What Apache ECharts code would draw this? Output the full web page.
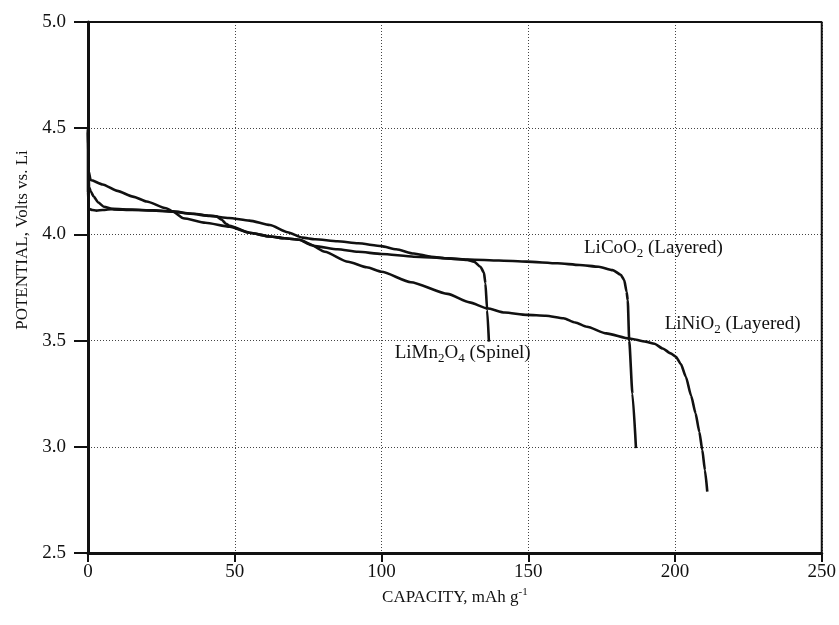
<!DOCTYPE html>
<html>
<head>
<meta charset="utf-8">
<script src="https://cdn.jsdelivr.net/npm/echarts@6/dist/echarts.min.js"></script>
<style>
  html, body { margin: 0; padding: 0; background: #fff; }
  #chart { width: 839px; height: 625px; }
</style>
</head>
<body>
<div id="chart"></div>
<script>
// Discharge curves: [capacity (mAh/g), potential (V vs. Li)]
const licoo2 = [
  [0, 4.49], [0.1, 4.38], [0.34, 4.225], [1, 4.2], [2, 4.177], [3.5, 4.15],
  [5.4, 4.13], [8.8, 4.118], [15, 4.115], [22, 4.113], [29, 4.107], [35, 4.097],
  [41.5, 4.087], [48, 4.077], [55, 4.065], [62, 4.044], [68, 4.01], [73, 3.985],
  [77.4, 3.977], [85, 3.968], [92, 3.958], [100, 3.945], [105, 3.93], [111, 3.91],
  [117, 3.895], [122.5, 3.887], [130, 3.882], [140, 3.877], [149.5, 3.872],
  [160, 3.864], [167.5, 3.856], [174, 3.848], [178.8, 3.832], [181.5, 3.81],
  [182.7, 3.785], [183.5, 3.73], [183.9, 3.69], [184.4, 3.5], [185.5, 3.25],
  [186.7, 2.994]
];
const limn2o4 = [
  [0, 4.5], [0, 4.2], [0.3, 4.12], [1.5, 4.115], [2.9, 4.112], [5, 4.115],
  [8.5, 4.12], [15, 4.117], [22, 4.113], [29, 4.107], [36, 4.097], [41.5, 4.088],
  [43.7, 4.085], [45.5, 4.07], [47, 4.05], [48.3, 4.04], [55, 4.008], [62, 3.99],
  [67, 3.982], [72, 3.975], [77.4, 3.945], [85, 3.93], [92, 3.918], [100, 3.908],
  [111, 3.895], [122.5, 3.887], [129.2, 3.88], [131.5, 3.872], [133.7, 3.848],
  [134.9, 3.82], [135.4, 3.77], [136, 3.644], [136.6, 3.495]
];
const linio2 = [
  [0, 4.48], [0.2, 4.3], [0.9, 4.256], [5, 4.235], [10, 4.205], [15.3, 4.178],
  [20, 4.155], [26.6, 4.123], [29, 4.107], [32.5, 4.076], [40, 4.055], [48.3, 4.036],
  [55, 4.008], [62, 3.99], [67, 3.982], [72, 3.975], [76, 3.95], [80.7, 3.918],
  [88.6, 3.871], [95, 3.845], [100, 3.824], [110, 3.775], [122.5, 3.72], [130, 3.68],
  [136, 3.652], [142, 3.632], [149.5, 3.621], [156, 3.617], [162, 3.605], [166, 3.585],
  [170, 3.565], [176.6, 3.534], [184.5, 3.51], [190, 3.495], [193, 3.485],
  [195.8, 3.463], [198.5, 3.44], [200.3, 3.424], [202, 3.39], [203.7, 3.33],
  [205.5, 3.24], [207, 3.158], [208.3, 3.07], [209.3, 2.985], [210.2, 2.89], [211, 2.789]
];

// Axis ticks
const xTicks = [0, 50, 100, 150, 200, 250];
const yTicks = [2.5, 3.0, 3.5, 4.0, 4.5, 5.0];

// Curve labels: rich-text pieces and anchor (left edge, vertical centre) in data units
const curveLabels = [
  { text: '{a|LiCoO}{s|2}{a| (Layered)}', at: [169, 3.935] },
  { text: '{a|LiNiO}{s|2}{a| (Layered)}', at: [196.5, 3.58] },
  { text: '{a|LiMn}{s|2}{a|O}{s|4}{a| (Spinel)}', at: [104.5, 3.44] }
];

const FONT = '"Liberation Serif", "Times New Roman", serif';
const INK = '#111';

const richSub = {
  a: { fontFamily: FONT, fontSize: 19, color: INK, lineHeight: 24 },
  s: { fontFamily: FONT, fontSize: 13, color: INK, lineHeight: 12, verticalAlign: 'bottom' }
};

function curve(name, data, label) {
  return {
    name: name,
    type: 'line',
    data: data,
    showSymbol: false,
    smooth: 0.2,
    smoothMonotone: 'x',
    lineStyle: { color: INK, width: 2.6 },
    z: 3,
    markPoint: {
      symbol: 'circle',
      symbolSize: 0,
      silent: true,
      data: [{ coord: label.at, value: 0 }],
      label: {
        show: true,
        position: 'right',
        distance: 0,
        formatter: label.text,
        rich: richSub
      }
    }
  };
}

const chart = echarts.init(document.getElementById('chart'), null, { renderer: 'canvas' });

chart.setOption({
  animation: false,
  backgroundColor: '#fff',
  grid: { left: 88, right: 11, top: 22, bottom: 72, show: false },
  xAxis: {
    type: 'value',
    min: xTicks[0],
    max: xTicks[xTicks.length - 1],
    interval: 50,
    name: '{a|CAPACITY, mAh g}{p|-1}',
    nameLocation: 'middle',
    nameGap: 33,
    nameTextStyle: {
      rich: {
        a: { fontFamily: FONT, fontSize: 17, color: INK, lineHeight: 22 },
        p: { fontFamily: FONT, fontSize: 11, color: INK, lineHeight: 10, verticalAlign: 'top' }
      }
    },
    axisLine: { show: true, onZero: false, lineStyle: { color: INK, width: 3 } },
    axisTick: { show: true, inside: false, length: 9, lineStyle: { color: INK, width: 2 } },
    axisLabel: { margin: 10, fontFamily: FONT, fontSize: 19, color: INK },
    splitLine: { show: true, lineStyle: { color: '#444', width: 1, type: [1, 2] } }
  },
  yAxis: {
    type: 'value',
    min: yTicks[0],
    max: yTicks[yTicks.length - 1],
    interval: 0.5,
    name: 'POTENTIAL, Volts vs. Li',
    nameLocation: 'middle',
    nameGap: 44,
    nameRotate: 90,
    nameTextStyle: { fontFamily: FONT, fontSize: 17, color: INK, padding: [0, 0, 0, 95] },
    axisLine: { show: true, onZero: false, lineStyle: { color: INK, width: 3 } },
    axisTick: { show: true, inside: false, length: 14, lineStyle: { color: INK, width: 2 } },
    axisLabel: {
      margin: 22, fontFamily: FONT, fontSize: 19, color: INK,
      formatter: v => v.toFixed(1)
    },
    splitLine: { show: true, lineStyle: { color: '#444', width: 1, type: [1, 2] } }
  },
  series: [
    curve('LiCoO2', licoo2, curveLabels[0]),
    curve('LiNiO2', linio2, curveLabels[1]),
    curve('LiMn2O4', limn2o4, curveLabels[2]),
    // top and right frame of the plot box
    {
      type: 'line',
      data: [[0, 5.0], [250, 5.0], [250, 2.5]],
      showSymbol: false,
      silent: true,
      lineStyle: { color: INK, width: 2 },
      z: 2
    }
  ]
});
</script>
</body>
</html>
